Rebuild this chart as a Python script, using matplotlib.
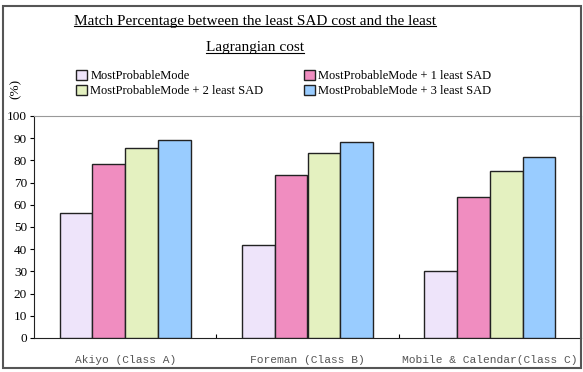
import numpy as np
import matplotlib
matplotlib.use("Agg")
import matplotlib.pyplot as plt
from matplotlib.patches import Rectangle
from matplotlib.lines import Line2D

categories = ["Akiyo (Class A)", "Foreman (Class B)", "Mobile & Calendar(Class C)"]
series_names = ["MostProbableMode", "MostProbableMode + 1 least SAD",
                "MostProbableMode + 2 least SAD", "MostProbableMode + 3 least SAD"]
mpm = [56.5, 42.0, 30.3]
mpm_1 = [78.2, 73.6, 63.6]
mpm_2 = [85.8, 83.2, 75.4]
mpm_3 = [89.2, 88.1, 81.4]
colors = ["#EEE4FA", "#F08DC0", "#E4F1C0", "#99CCFF"]

serif = "Liberation Serif"

fig = plt.figure(figsize=(5.83, 3.72), dpi=100)
ax = fig.add_axes([34 / 583, 1 - 338 / 372, (581 - 34) / 583, (338 - 116) / 372])

x = np.arange(len(categories))
width = 0.18
for i, vals in enumerate([mpm, mpm_1, mpm_2, mpm_3]):
    ax.bar(x + (i - 1.5) * width, vals, width, color=colors[i], edgecolor="#222222",
           linewidth=1.0, label=series_names[i], zorder=3)

ax.set_xlim(-0.5, len(categories) - 0.5)
ax.set_ylim(0, 100)
ax.set_yticks(np.arange(0, 101, 10))
ax.set_yticklabels([str(v) for v in range(0, 101, 10)], fontfamily=serif, fontsize=9.5)
ax.tick_params(axis="y", direction="out", length=3, width=0.8, pad=2)
ax.set_xticks(x)
ax.set_xticklabels(categories, fontfamily="Liberation Mono", fontsize=8.1, color="#555555")
ax.set_xticks(x[:-1] + 0.5, minor=True)
ax.tick_params(axis="x", which="major", length=0, pad=12)
ax.tick_params(axis="x", which="minor", direction="in", length=3, width=0.8)

ax.spines["left"].set_color("#222222")
ax.spines["bottom"].set_color("#222222")
ax.spines["top"].set_color("#999999")
ax.spines["right"].set_color("#777777")

# outer chart border
fig.add_artist(Rectangle((3 / 583, 1 - 368 / 372), 578 / 583, 362 / 372,
                         transform=fig.transFigure, fill=False,
                         edgecolor="#555555", linewidth=1.5))

# title with underline
t1 = fig.text(255 / 583, 1 - 21 / 372, "Match Percentage between the least SAD cost and the least",
              ha="center", va="center", fontfamily=serif, fontsize=11)
t2 = fig.text(255 / 583, 1 - 48 / 372, "Lagrangian cost",
              ha="center", va="center", fontfamily=serif, fontsize=11)
fig.canvas.draw()
r = fig.canvas.get_renderer()
for t in (t1, t2):
    bb = t.get_window_extent(r).transformed(fig.transFigure.inverted())
    yl = bb.y0 + 0.004
    fig.add_artist(Line2D([bb.x0, bb.x1], [yl, yl], transform=fig.transFigure,
                          color="black", linewidth=0.8))

fig.text(16 / 583, 1 - 89 / 372, "(%)", rotation=90, ha="center", va="center",
         fontfamily=serif, fontsize=9.5)

handles, labels = ax.get_legend_handles_labels()
leg_kw = dict(loc="upper left", frameon=False, prop={"family": serif, "size": 9},
              handlelength=0.85, handleheight=0.85, handletextpad=0.3,
              labelspacing=0.2, borderpad=0, borderaxespad=0)
fig.legend([handles[0], handles[2]], [labels[0], labels[2]],
           bbox_to_anchor=(76 / 583, 1 - 70 / 372), **leg_kw)
fig.legend([handles[1], handles[3]], [labels[1], labels[3]],
           bbox_to_anchor=(304 / 583, 1 - 70 / 372), **leg_kw)

fig.savefig("out.png", dpi=100)
